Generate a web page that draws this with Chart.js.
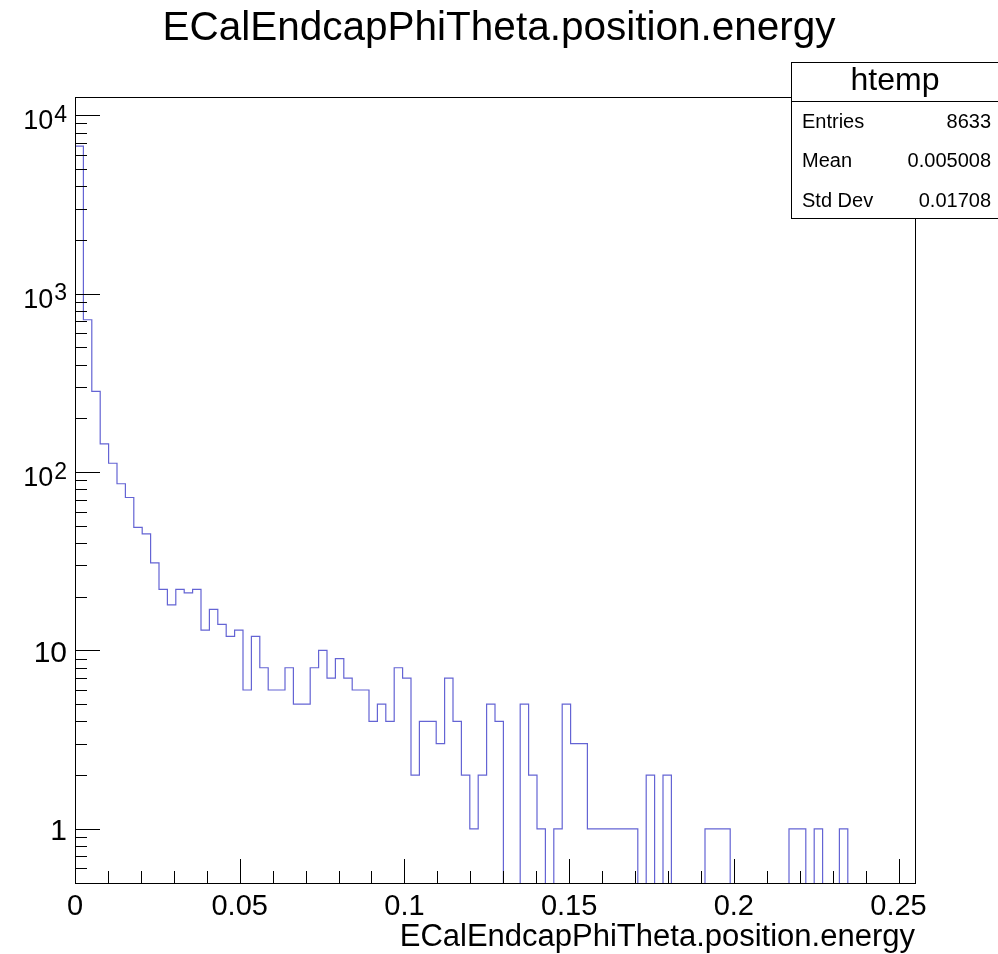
<!DOCTYPE html>
<html lang="en">
<head>
    <meta charset="UTF-8">
    <title>ECalEndcapPhiTheta.position.energy</title>
    <script src="https://cdn.jsdelivr.net/npm/chart.js"></script>
    <style>
        body {
            margin: 0;
            background: #ffffff;
        }
        #wrap {
            width: 998px;
            height: 954px;
            position: relative;
        }
    </style>
</head>
<body>
    <div id="wrap">
        <canvas id="histChart"></canvas>
    </div>

    <script>
        // histogram htemp: 100 bins from xMin to xMax
        const xMin = 0;
        const xMax = 0.255;
        const binCounts = [
            6710, 714, 283, 144, 112, 86, 72, 49, 45, 31,
            22, 18, 22, 21, 22, 13, 17, 14, 12, 13,
            6, 12, 8, 6, 6, 8, 5, 5, 8, 10,
            7, 9, 7, 6, 6, 4, 5, 4, 8, 7,
            2, 4, 4, 3, 7, 4, 2, 1, 2, 5,
            4, 0, 0, 5, 2, 1, 0, 1, 5, 3,
            3, 1, 1, 1, 1, 1, 1, 0, 2, 0,
            2, 0, 0, 0, 0, 1, 1, 1, 0, 0,
            0, 0, 0, 0, 0, 1, 1, 0, 1, 0,
            0, 1, 0, 0, 0, 0, 0, 0, 0, 0
        ];

        // axis ticks
        const xTickValues = [0, 0.01, 0.02, 0.03, 0.04, 0.05, 0.06, 0.07, 0.08, 0.09,
                             0.1, 0.11, 0.12, 0.13, 0.14, 0.15, 0.16, 0.17, 0.18, 0.19,
                             0.2, 0.21, 0.22, 0.23, 0.24, 0.25];
        const xTickLabels = ['0', '0.05', '0.1', '0.15', '0.2', '0.25'];
        const yMin = 0.497;
        const yMax = 12660;
        const yLabelValues = [1, 10, 100, 1000, 10000];
        const yLabelBase = ['1', '10', '10', '10', '10'];
        const yLabelExp = ['', '', '2', '3', '4'];

        // stats box
        const statsTitle = 'htemp';
        const statsNames = ['Entries', 'Mean', 'Std Dev'];
        const statsValues = ['8633', '0.005008', '0.01708'];

        const FONT = '"Liberation Sans", Arial, Helvetica, sans-serif';
        const floorVal = 0.01; // empty bins drop below the frame

        const binW = (xMax - xMin) / binCounts.length;
        const points = binCounts.map((c, i) => ({ x: xMin + i * binW, y: c > 0 ? c : floorVal }));
        points.push({ x: xMax, y: binCounts[binCounts.length - 1] || floorVal });

        function yMinorTicks() {
            const out = [];
            for (let d = 0.1; d <= 10000; d *= 10) {
                for (let k = 1; k <= 9; k++) {
                    const v = +(k * d).toPrecision(3);
                    if (v >= yMin && v <= yMax) out.push(v);
                }
            }
            return out;
        }

        const rootLook = {
            id: 'rootLook',
            afterDraw(chart) {
                const ctx = chart.ctx;
                const a = chart.chartArea;
                const xs = chart.scales.x;
                const ys = chart.scales.y;
                ctx.save();
                ctx.strokeStyle = '#000';
                ctx.lineWidth = 1;

                // frame
                ctx.strokeRect(Math.round(a.left) + 0.5, Math.round(a.top) + 0.5,
                    Math.round(a.right - a.left), Math.round(a.bottom - a.top));

                // x ticks (inside, upwards)
                ctx.beginPath();
                xs.ticks.forEach(t => {
                    const px = Math.round(xs.getPixelForValue(t.value)) + 0.5;
                    const major = Math.abs(t.value / 0.05 - Math.round(t.value / 0.05)) < 1e-6;
                    ctx.moveTo(px, a.bottom);
                    ctx.lineTo(px, a.bottom - (major ? 24 : 12));
                });
                // y ticks (inside, rightwards)
                ys.ticks.forEach(t => {
                    const py = Math.round(ys.getPixelForValue(t.value)) + 0.5;
                    const major = yLabelValues.includes(t.value);
                    ctx.moveTo(a.left, py);
                    ctx.lineTo(a.left + (major ? 25 : 12), py);
                });
                ctx.stroke();

                // y labels with exponents
                ctx.fillStyle = '#000';
                ctx.textAlign = 'right';
                ctx.textBaseline = 'alphabetic';
                yLabelValues.forEach((v, i) => {
                    const py = ys.getPixelForValue(v);
                    if (yLabelExp[i]) {
                        ctx.font = '23px ' + FONT;
                        ctx.fillText(yLabelExp[i], 67, py + 6.5);
                        const ew = ctx.measureText(yLabelExp[i]).width;
                        ctx.font = '27px ' + FONT;
                        ctx.fillText(yLabelBase[i], 67 - ew - 1, py + 14);
                    } else {
                        ctx.font = '30px ' + FONT;
                        ctx.fillText(yLabelBase[i], 67, py + 11.5);
                    }
                });

                // stats box
                const bx = 791.5, by = 62.5, bw = 210, bh = 156;
                ctx.fillStyle = '#fff';
                ctx.fillRect(bx, by, bw, bh);
                ctx.strokeRect(bx, by, bw, bh);
                ctx.beginPath();
                ctx.moveTo(bx, 101.5);
                ctx.lineTo(bx + bw, 101.5);
                ctx.stroke();
                ctx.fillStyle = '#000';
                ctx.textBaseline = 'middle';
                ctx.textAlign = 'center';
                ctx.font = '32px ' + FONT;
                ctx.fillText(statsTitle, 895, 81);
                ctx.font = '20px ' + FONT;
                statsNames.forEach((n, i) => {
                    const ty = 122 + i * 39.5;
                    ctx.textAlign = 'left';
                    ctx.fillText(n, 802, ty);
                    ctx.textAlign = 'right';
                    ctx.fillText(statsValues[i], 991, ty);
                });
                ctx.restore();
            }
        };

        new Chart(document.getElementById('histChart'), {
            type: 'line',
            data: {
                datasets: [{
                    label: 'htemp',
                    data: points,
                    stepped: 'before',
                    borderColor: '#6464d4',
                    borderWidth: 1.2,
                    pointRadius: 0,
                    fill: false,
                    tension: 0
                }]
            },
            options: {
                responsive: true,
                maintainAspectRatio: false,
                animation: false,
                events: [],
                layout: { padding: 0 },
                plugins: {
                    legend: { display: false },
                    tooltip: { enabled: false },
                    title: {
                        display: true,
                        text: 'ECalEndcapPhiTheta.position.energy',
                        color: '#000',
                        font: { family: FONT, size: 40.5, weight: 'normal', lineHeight: 1.2 },
                        padding: { top: 5, bottom: 43.4 }
                    }
                },
                scales: {
                    x: {
                        type: 'linear',
                        min: xMin,
                        max: xMax,
                        grid: { display: false, drawTicks: false },
                        border: { display: false },
                        afterBuildTicks: s => { s.ticks = xTickValues.map(v => ({ value: v })); },
                        afterFit: s => { s.height = 71; },
                        ticks: {
                            autoSkip: false,
                            maxRotation: 0,
                            padding: 7,
                            color: '#000',
                            font: { family: FONT, size: 29 },
                            callback: v => {
                                const s = String(+v.toFixed(2));
                                return xTickLabels.includes(s) && Math.abs(v * 20 - Math.round(v * 20)) < 1e-6 ? s : '';
                            }
                        },
                        title: {
                            display: true,
                            text: 'ECalEndcapPhiTheta.position.energy',
                            align: 'end',
                            color: '#000',
                            font: { family: FONT, size: 31, lineHeight: 1.05 },
                            padding: 0
                        }
                    },
                    y: {
                        type: 'logarithmic',
                        min: yMin,
                        max: yMax,
                        grid: { display: false, drawTicks: false },
                        border: { display: false },
                        afterBuildTicks: s => { s.ticks = yMinorTicks().map(v => ({ value: v })); },
                        afterFit: s => { s.width = 75; },
                        ticks: { display: false }
                    },
                    // empty right margin so the frame ends where ROOT's does
                    yRight: {
                        type: 'linear',
                        position: 'right',
                        display: true,
                        grid: { display: false, drawTicks: false },
                        border: { display: false },
                        ticks: { display: false },
                        afterFit: s => { s.width = 83; }
                    }
                }
            },
            plugins: [rootLook]
        });
    </script>
</body>
</html>
